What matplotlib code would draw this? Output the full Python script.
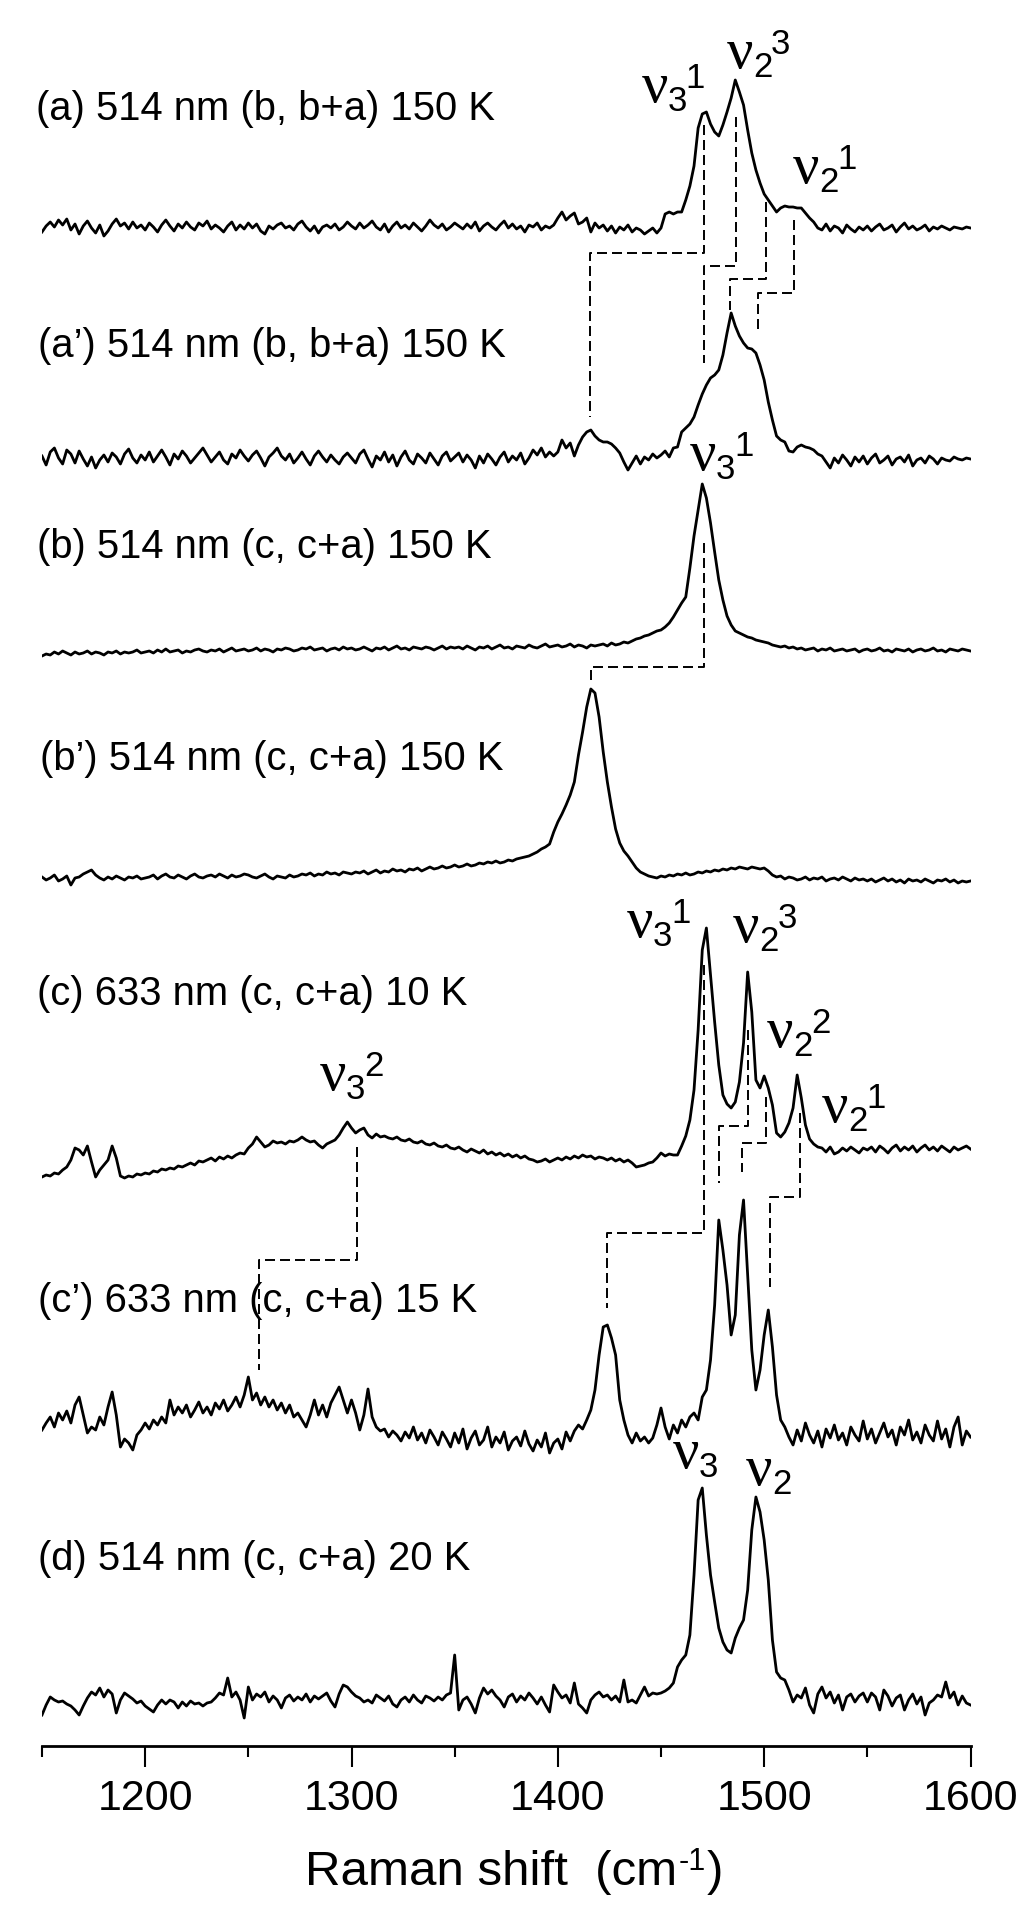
import numpy as np
import matplotlib
matplotlib.use('Agg')
import matplotlib.pyplot as plt
from matplotlib.ticker import MultipleLocator

plt.rcParams['font.family'] = ['Liberation Sans', 'DejaVu Sans']
plt.rcParams['lines.scale_dashes'] = False

# ---------------- data ----------------
WN_START, WN_STEP = 1150, 2     # Raman shift grid (cm-1), 1150 ... 1600

# intensities (arb. units) relative to each trace's own baseline
spec_a = [
    -4, 2, 6, 1, 8, 3, 9, -2, 4, -6, 2, 7, 0, -5, 3, -8, -3, 4, 9, 2, 5, -1, 6, 0, 3,
    -2, 5, 1, -4, 3, 8, 2, -3, 4, 0, 6, 1, -2, 5, 2, 7, -1, 3, 0, -4, 2, 6, -2, 3, -1,
    5, 0, 4, -3, -6, 2, -1, 3, 5, 0, 2, -2, 4, 7, 1, -3, 2, -5, 1, 3, 0, 4, -2, 1, 6,
    2, -1, 5, 0, 3, 7, 1, -2, 4, -4, 2, 6, 0, 3, -1, 5, 1, -3, 2, 8, 3, 0, 4, -2, 1,
    5, 2, -1, 4, 0, 6, -3, 2, 5, 1, -2, 3, 7, 0, 4, -1, 2, -4, 3, 1, 5, -2, 2, 0, 3,
    10, 16, 8, 12, 15, 4, 6, 10, -4, 5, 0, 3, -3, 2, -5, 1, -2, 3, -4, 0, -2, -6, -3, 0, -5,
    0, 14, 16, 14, 16, 16, 28, 42, 62, 100, 114, 116, 104, 96, 92, 103, 116, 130, 148, 136, 123, 98, 75, 58, 45,
    34, 28, 22, 16, 20, 22, 21, 21, 20, 20, 15, 10, 6, 0, -2, 4, -3, 2, 0, -5, 3, -1, -4, 1, -2,
    2, -3, 1, 4, -2, 0, 3, -4, 1, 5, -1, 2, -2, 0, 3, -3, 1, -1, 2, 0, -2, 1, 0, -1, 1,
    0]

spec_a2 = [
    4, -5, 8, 12, 2, -4, 10, 6, -3, 9, 1, -6, 3, -8, 0, 5, -2, 7, 3, -4, 6, 11, 2, -3, 5,
    0, 8, -2, 4, 10, 3, -5, 6, 1, 9, 4, -3, 2, 7, 12, 5, -2, 3, 8, 0, -4, 6, 2, 10, 4,
    -1, 5, 9, 2, -6, 3, 7, 12, 4, 0, 6, -3, 2, 8, 1, -5, 4, 9, 3, -2, 5, 0, -4, 3, 7,
    2, -3, 6, 10, 1, -7, 4, 0, 8, -2, 5, -6, 3, 9, 0, -4, 6, 2, -3, 7, 1, -5, 4, 8, -1,
    3, 7, -2, 5, 0, -8, 4, -3, 6, 1, -5, 3, 8, -2, 4, 0, 7, -4, 2, 10, 5, 12, 3, 8, 4,
    8, 20, 12, 17, 4, 15, 23, 28, 30, 24, 20, 18, 18, 16, 12, 7, -2, -10, -3, 4, -4, 3, 0, 6, 2,
    5, 9, 3, 12, 13, 28, 32, 36, 43, 55, 66, 75, 82, 85, 90, 105, 127, 147, 134, 124, 117, 112, 111, 107, 95,
    80, 58, 40, 24, 20, 18, 9, 8, 13, 15, 13, 12, 10, 6, 4, -2, -8, 2, -3, 5, 0, -6, 3, -2, 4,
    -4, 2, 6, -3, 0, 4, -5, 1, 3, -2, 5, -6, 0, 2, -3, 4, 1, -4, 2, 0, -1, 3, 1, 0, 2,
    1]

spec_b = [
    -6, -4, -5, -2, -4, -1, -3, -5, -2, -4, -3, -1, -4, -2, -3, -5, -2, -3, -1, -4, -2, -3, -2, 0, -3,
    -2, -1, -3, 0, -2, 1, -2, -1, 0, -3, -1, -2, 0, 1, -1, -2, 0, -1, 1, -2, 0, 2, -1, 0, 1,
    -1, 0, 2, -1, 1, 0, -2, 1, 0, 2, 1, -1, 0, 2, 1, 3, 0, 1, 2, -1, 1, 2, 0, 3, 1,
    2, 0, 1, 3, 1, -1, 2, 1, 3, 0, 2, 4, 1, 2, 0, 3, 2, 1, 3, 2, 0, 2, 4, 1, 3,
    2, 3, 1, 4, 2, 0, 3, 2, 4, 1, 3, 5, 2, 3, 1, 4, 3, 2, 5, 3, 2, 4, 6, 3, 4,
    5, 3, 4, 6, 3, 5, 4, 2, 5, 4, 5, 6, 4, 7, 5, 6, 8, 7, 9, 11, 12, 14, 15, 17, 19,
    20, 23, 27, 33, 40, 47, 53, 82, 114, 140, 166, 152, 127, 98, 70, 50, 34, 25, 19, 17, 15, 13, 12, 10, 9,
    8, 7, 5, 4, 3, 4, 2, 3, 1, 2, 0, 1, 2, -1, 1, 0, 2, -1, 0, 1, -1, 0, 1, -2, 0,
    1, -1, 0, 2, -1, 0, -2, 1, 0, -1, 1, -2, 0, 1, -1, 0, 2, -1, 0, -2, 1, 0, -1, 1, 0,
    -1]

spec_b2 = [
    0, -3, -1, 2, -4, -2, 1, -8, -1, 0, 3, 5, 7, 2, -1, -3, 0, -2, 1, -1, -3, 0, -1, 1, -2,
    -1, 0, 2, -2, 1, 3, 0, -1, 2, 0, -2, 1, 3, 0, -1, 1, 2, 0, 3, 1, -1, 2, 0, 1, 3,
    2, 0, -1, 1, 3, 0, -2, 1, 0, -1, 2, 0, 1, 3, 2, 4, 1, 3, 2, 5, 3, 4, 2, 5, 4,
    3, 5, 4, 6, 3, 5, 7, 4, 6, 5, 8, 6, 7, 5, 8, 7, 9, 6, 8, 10, 8, 9, 11, 9, 10,
    12, 10, 11, 13, 11, 12, 14, 13, 15, 14, 16, 14, 15, 17, 16, 18, 19, 20, 21, 23, 25, 28, 30, 33, 45,
    55, 63, 72, 82, 95, 122, 145, 170, 188, 184, 160, 125, 95, 70, 48, 34, 26, 21, 15, 9, 5, 3, 1, 0, -1,
    1, 0, 2, 1, 3, 2, 4, 2, 3, 5, 4, 6, 5, 7, 6, 8, 7, 9, 8, 10, 9, 8, 10, 9, 8,
    9, 6, 2, 0, 1, -2, 0, -1, -3, -2, 0, -3, -1, -2, 0, -4, -2, -1, -3, 0, -2, -4, -1, -3, -2,
    -4, -2, -5, -3, -1, -4, -2, -5, -3, -6, -2, -4, -3, -5, -2, -4, -6, -3, -4, -2, -5, -3, -6, -4, -5,
    -4]

spec_c = [
    -27, -25, -26, -23, -24, -20, -17, -10, 2, 0, -5, 4, -12, -27, -20, -15, -10, 4, -8, -26, -28, -26, -27, -24, -25,
    -23, -24, -21, -22, -19, -20, -18, -19, -16, -17, -15, -13, -15, -11, -12, -10, -8, -11, -7, -9, -6, -8, -5, -3, -4,
    2, 6, 13, 8, 3, 5, 9, 7, 8, 6, 9, 8, 10, 13, 10, 8, 9, 5, 2, 6, 8, 10, 15, 22, 28,
    22, 17, 20, 22, 15, 12, 16, 13, 14, 12, 11, 13, 10, 9, 11, 8, 7, 9, 6, 5, 7, 4, 3, 5, 2,
    1, 3, 0, -2, 1, -1, -3, 0, -4, -2, -5, -3, -6, -4, -7, -5, -8, -6, -9, -10, -12, -11, -9, -12, -10,
    -8, -10, -7, -9, -6, -8, -5, -7, -6, -9, -7, -8, -10, -8, -11, -9, -12, -10, -13, -17, -16, -15, -13, -12, -8,
    -3, -6, -4, -5, -5, 4, 14, 30, 60, 120, 200, 222, 175, 128, 85, 55, 46, 42, 48, 68, 107, 178, 138, 70, 62,
    74, 62, 45, 17, 13, 18, 27, 42, 75, 52, 25, 11, 6, 3, 2, -2, 3, -4, -2, 2, -1, 3, 0, -3, 2,
    0, 3, -2, 4, 1, -3, 2, 5, -1, 3, 0, 4, -2, 2, 5, 0, 3, -1, 4, 1, -2, 3, 0, 2, 4,
    1]

spec_c2 = [
    5, 12, 18, 8, 22, 15, 24, 12, 30, 38, 20, 2, 8, 5, 18, 10, 28, 43, 20, -12, -4, -8, -15, 0, 5,
    12, 6, 15, 10, 18, 12, 35, 20, 28, 22, 30, 18, 25, 33, 22, 28, 20, 32, 26, 35, 24, 30, 38, 28, 40,
    58, 35, 42, 30, 38, 28, 35, 25, 32, 22, 30, 18, 22, 15, 8, 20, 35, 20, 30, 18, 32, 40, 48, 35, 22,
    35, 22, 5, 20, 46, 18, 8, 4, 6, -2, 4, 0, -6, 3, -3, 8, -5, 2, -8, 5, -2, -10, 3, -4, -12,
    2, -8, 6, -14, -3, 4, -10, -5, 8, -12, -2, -8, 3, -15, -6, -2, -11, 4, -9, -16, -5, -12, 2, -18, -8,
    -4, -14, 3, -6, 4, 10, 6, 15, 25, 45, 80, 108, 110, 97, 80, 35, 15, 0, -8, 2, -6, -2, -8, -3, 10,
    27, 8, -4, 10, 2, 15, 8, 18, 22, 15, 38, 45, 75, 130, 215, 185, 150, 100, 120, 200, 235, 160, 85, 45, 65,
    100, 125, 88, 40, 15, 8, -2, -10, 5, -6, 12, 0, -8, 4, -12, 6, -3, 10, -5, 2, -10, 8, 0, -6, 14,
    -4, 6, -8, 2, 12, -2, 5, -10, 8, 0, 15, -5, 3, -8, 10, 0, -6, 14, -4, 6, -12, 8, 18, -10, 4,
    -2]

spec_d = [
    -15, -5, 3, 0, -2, -1, -4, -6, -10, -15, -6, 2, 8, 5, 12, 3, 10, 6, -13, 0, 7, 4, 1, -3, -1,
    -6, -9, -12, -5, 0, -4, 0, -2, -8, -2, -6, -1, -4, -3, -6, -3, -2, 2, 7, 5, 22, 3, 8, 0, -18,
    13, 0, 6, 3, 8, -2, 4, 0, -8, 2, 5, -1, 3, 0, 6, -2, 4, 1, 4, 7, -1, -7, 6, 15, 13,
    8, 4, 2, -2, 0, -3, 5, 2, -1, 4, -4, -7, 0, 3, -2, 5, 0, -3, 4, 2, -1, 3, 0, 5, 7,
    45, -10, 0, 3, -4, -13, 2, 12, 6, 10, 4, 0, -7, 3, 6, -2, 4, 0, 7, 2, -4, 3, -5, -12, 15,
    8, 2, 5, -3, 17, -4, -8, -13, 0, 5, 8, 3, 5, 0, 4, -2, 20, -2, 0, -3, 5, 13, 4, 7, 6,
    7, 9, 12, 17, 33, 40, 45, 65, 125, 200, 212, 165, 125, 98, 72, 58, 50, 47, 62, 72, 80, 110, 170, 203, 188,
    160, 120, 60, 28, 22, 20, 10, -2, 5, 2, 12, -5, -13, 6, 13, 2, 8, -3, 5, -10, 3, 6, -2, 4, 7,
    -2, 7, 3, -10, 10, 4, -6, 2, 5, -10, 0, 6, -4, 3, -15, -3, 0, 5, 3, 18, 2, 8, -5, 4, -3,
    -5]

spectra = [spec_a, spec_a2, spec_b, spec_b2, spec_c, spec_c2, spec_d]
offsets = [1518, 1286, 1096, 869, 596, 311, 46]          # vertical stacking offsets

labels = ['(a) 514 nm (b, b+a) 150 K',
          '(a\u2019) 514 nm (b, b+a) 150 K',
          '(b) 514 nm (c, c+a) 150 K',
          '(b\u2019) 514 nm (c, c+a) 150 K',
          '(c) 633 nm (c, c+a) 10 K',
          '(c\u2019) 633 nm (c, c+a) 15 K',
          '(d) 514 nm (c, c+a) 20 K']
label_x = [1147.1, 1148.1, 1147.6, 1149.0, 1147.6, 1148.1, 1148.1]
label_y = [1626, 1389, 1188, 976, 741, 434, 176]

# band labels: nu_sub^sup
nu_sub = ['3', '2', '2', '3', '3', '3', '2', '2', '2', '3', '2']
nu_sup = ['1', '3', '1', '1', '2', '1', '3', '2', '1', '', '']
nu_x = [1440.7, 1482.0, 1514.0, 1464.1, 1284.8, 1433.6, 1485.0, 1501.4, 1528.1, 1455.9, 1491.3]
nu_y = [1644, 1678, 1563, 1276, 656, 809, 804, 699, 624, 278, 261]

# dashed correlation lines: upper peak -> lower peak
conn_wn_top = [1471.0, 1486.2, 1500.8, 1514.5, 1470.8, 1470.6, 1492.4, 1500.8, 1517.5, 1302.8]
conn_wn_bot = [1415.6, 1471.0, 1483.2, 1497.0, 1416.3, 1423.7, 1478.2, 1489.2, 1503.0, 1255.3]
conn_y_top = [1621, 1629, 1544, 1526, 1203, 781, 716, 649, 633, 599]
conn_y_mid = [1493, 1480, 1467, 1453, 1079, 513, 620, 603, 549, 486]
conn_y_bot = [1329, 1383, 1436, 1414, 1066, 438, 563, 574, 459, 376]

xticks = [1200, 1300, 1400, 1500, 1600]
xlabel_main, xlabel_sup, xlabel_end = 'Raman shift  (cm', '-1', ')'

# ---------------- figure ----------------
W, H = 1024, 1916
fig = plt.figure(figsize=(W / 100, H / 100), dpi=100)
ax_left, ax_right, ax_bottom = 42, 970.5, 1746
ax = fig.add_axes([ax_left / W, 1 - ax_bottom / H, (ax_right - ax_left) / W, ax_bottom / H])
ax.set_xlim(1150, 1600)
ax.set_ylim(0, 1746)

for vals, off in zip(spectra, offsets):
    v = np.asarray(vals, dtype=float)
    wn = WN_START + WN_STEP * np.arange(len(v))
    ax.plot(wn, v + off, color='black', lw=2.0, solid_joinstyle='round')

for xt, xb, yt, ym, yb in zip(conn_wn_top, conn_wn_bot, conn_y_top, conn_y_mid, conn_y_bot):
    ax.plot([xt, xt, xb, xb], [yt, ym, ym, yb], color='black', lw=1.4,
            linestyle=(0, (7.2, 3.6)))

for txt, x, y in zip(labels, label_x, label_y):
    ax.text(x, y, txt, fontsize=28.8, ha='left', va='baseline', color='black')

for sub, sup, x, y in zip(nu_sub, nu_sup, nu_x, nu_y):
    ax.text(x, y, '\u03bd', fontsize=42, family=['Liberation Serif', 'DejaVu Serif'],
            ha='left', va='baseline')
    ax.annotate(sub, (x, y), xytext=(18.7, -6.8), textcoords='offset points',
                fontsize=25, ha='left', va='baseline')
    if sup:
        ax.annotate(sup, (x, y), xytext=(31.7, 10.0), textcoords='offset points',
                    fontsize=25, ha='left', va='baseline')

for s in ['left', 'right', 'top']:
    ax.spines[s].set_visible(False)
ax.spines['bottom'].set_linewidth(2.0)
ax.set_yticks([])
ax.set_xticks(xticks)
ax.xaxis.set_minor_locator(MultipleLocator(50))
ax.tick_params(axis='x', which='major', direction='out', length=15, width=1.5,
               pad=9, labelsize=31)
ax.tick_params(axis='x', which='minor', direction='out', length=8, width=1.5)

# x label built from pieces so the superscript is a short hyphen
fs_main, fs_sup = 35.5, 22
x0_px, base_px = 305, 1885
t1 = fig.text(x0_px / W, (H - base_px) / H, xlabel_main, fontsize=fs_main,
              ha='left', va='baseline')
fig.canvas.draw()
r = fig.canvas.get_renderer()
e1 = t1.get_window_extent(renderer=r)
t2 = fig.text((e1.x1 + 1) / W, (H - base_px + 15) / H, xlabel_sup, fontsize=fs_sup,
              ha='left', va='baseline')
fig.canvas.draw()
e2 = t2.get_window_extent(renderer=r)
fig.text((e2.x1 + 1) / W, (H - base_px) / H, xlabel_end, fontsize=fs_main,
         ha='left', va='baseline')

fig.savefig('out.png', dpi=100)
